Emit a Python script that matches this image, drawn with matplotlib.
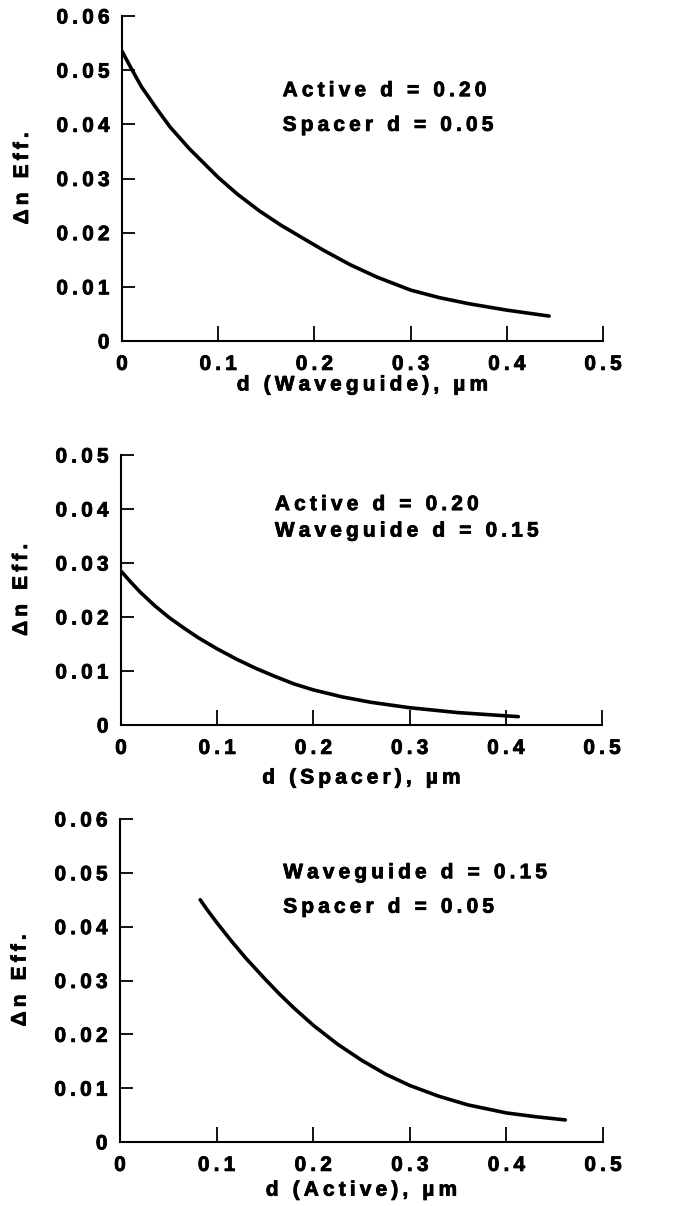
# plot.py
# Three stacked panels: change in effective index vs. layer thickness.

import matplotlib
matplotlib.use("Agg")
import matplotlib.pyplot as plt
import matplotlib.patheffects as pe
from matplotlib.ticker import FuncFormatter

plt.rcParams["font.family"] = ["Liberation Sans", "DejaVu Sans"]
plt.rcParams["font.weight"] = "bold"
plt.rcParams["font.size"] = 15

THIN = "\u2009"
HEAVY = [pe.withStroke(linewidth=0.6, foreground="black")]

# waveguide thickness sweep (active 0.20, spacer 0.05)
wg_d = [0.0, 0.01, 0.02, 0.036, 0.05, 0.07, 0.10, 0.12, 0.143, 0.165,
        0.185, 0.21, 0.237, 0.265, 0.30, 0.33, 0.36, 0.40, 0.444]
wg_dn = [0.0535, 0.0502, 0.0470, 0.0429, 0.0395, 0.0355, 0.0302, 0.0271, 0.0240, 0.0214,
         0.0193, 0.0167, 0.0141, 0.0118, 0.0094, 0.0080, 0.0069, 0.0057, 0.0046]

# spacer thickness sweep (active 0.20, waveguide 0.15)
sp_d = [0.0, 0.01, 0.02, 0.035, 0.05, 0.065, 0.08, 0.10, 0.12, 0.14,
        0.16, 0.18, 0.20, 0.23, 0.26, 0.30, 0.35, 0.40, 0.413]
sp_dn = [0.0285, 0.0265, 0.0246, 0.0221, 0.0199, 0.0180, 0.0162, 0.0141, 0.0122, 0.0105,
         0.0090, 0.0076, 0.0065, 0.0052, 0.0042, 0.0032, 0.0023, 0.0017, 0.00155]

# active thickness sweep (waveguide 0.15, spacer 0.05)
ac_d = [0.083, 0.09, 0.10, 0.115, 0.13, 0.15, 0.165, 0.18, 0.20, 0.225,
        0.25, 0.275, 0.30, 0.33, 0.36, 0.40, 0.43, 0.461]
ac_dn = [0.0450, 0.0432, 0.0408, 0.0374, 0.0342, 0.0303, 0.0275, 0.0249, 0.0217, 0.0182,
         0.0152, 0.0126, 0.0105, 0.0085, 0.0069, 0.0054, 0.0047, 0.0041]

x_ticks = [0, 0.1, 0.2, 0.3, 0.4, 0.5]
y_ticks_6 = [0, 0.01, 0.02, 0.03, 0.04, 0.05, 0.06]
y_ticks_5 = [0, 0.01, 0.02, 0.03, 0.04, 0.05]

xlabels = ["d (Waveguide), \u00b5m", "d (Spacer), \u00b5m", "d (Active), \u00b5m"]
ylabel = "\u0394n Eff."
notes = [
    ["Active d = 0.20", "Spacer d = 0.05"],
    ["Active d = 0.20", "Waveguide d = 0.15"],
    ["Waveguide d = 0.15", "Spacer d = 0.05"],
]


def spaced(s):
    # wide letter spacing
    return THIN.join(s)


def fmt_x(v, pos):
    return "0" if abs(v) < 1e-9 else spaced(f"{v:.1f}")


def fmt_y(v, pos):
    return "0" if abs(v) < 1e-9 else spaced(f"{v:.2f}")


fig = plt.figure(figsize=(6.76, 12.06), dpi=100)

W = 676.0
H = 1206.0
# panel boxes in pixels: left, top, right, bottom
boxes = [(122, 16, 603, 341), (121, 455, 602, 725), (120, 819, 603, 1142)]
series = [(wg_d, wg_dn), (sp_d, sp_dn), (ac_d, ac_dn)]
ytick_sets = [y_ticks_6, y_ticks_5, y_ticks_6]
note_pos = [(0.167, 0.0452, 0.0388), (0.160, 0.0398, 0.0349), (0.169, 0.0490, 0.0426)]
xlab_y = [-0.135, -0.196, -0.149]

for i in range(3):
    l, t, r, b = boxes[i]
    ax = fig.add_axes([l / W, 1 - b / H, (r - l) / W, (b - t) / H])
    x, y = series[i]
    ax.plot(x, y, color="black", lw=2.6, solid_capstyle="round", solid_joinstyle="round")

    yt = ytick_sets[i]
    ax.set_xlim(0, 0.5)
    ax.set_ylim(0, yt[-1])
    ax.set_xticks(x_ticks)
    ax.set_yticks(yt)
    ax.xaxis.set_major_formatter(FuncFormatter(fmt_x))
    ax.yaxis.set_major_formatter(FuncFormatter(fmt_y))

    for s in ["top", "right"]:
        ax.spines[s].set_visible(False)
    for s in ["left", "bottom"]:
        ax.spines[s].set_linewidth(1.5)
    ax.tick_params(axis="x", direction="in", length=11, width=1.3, pad=10)
    ax.tick_params(axis="y", direction="in", length=9.5, width=1.3, pad=9)
    for lab in ax.get_xticklabels() + ax.get_yticklabels():
        lab.set_path_effects(HEAVY)

    ax.set_ylabel(spaced(ylabel), fontweight="bold", path_effects=HEAVY)
    ax.yaxis.set_label_coords(-0.207, 0.5)
    ax.yaxis.label.set_va("center")
    ax.set_xlabel(spaced(xlabels[i]), fontweight="bold", path_effects=HEAVY)
    ax.xaxis.set_label_coords(0.5, xlab_y[i])
    ax.xaxis.label.set_va("center")

    nx, ny1, ny2 = note_pos[i]
    ax.text(nx, ny1, spaced(notes[i][0]), va="baseline", ha="left", path_effects=HEAVY)
    ax.text(nx, ny2, spaced(notes[i][1]), va="baseline", ha="left", path_effects=HEAVY)

fig.savefig("out.png", dpi=100)
